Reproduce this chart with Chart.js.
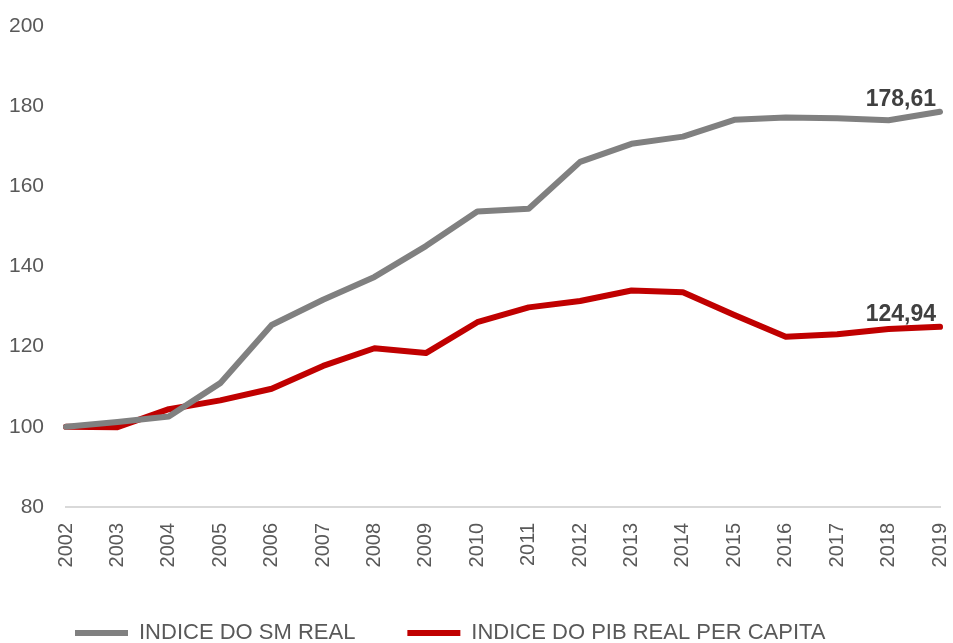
<!DOCTYPE html>
<html>
<head>
<meta charset="utf-8">
<script src="https://cdn.jsdelivr.net/npm/chart.js@4.4.1/dist/chart.umd.min.js"></script>
<style>
    html, body { margin: 0; padding: 0; background: #fff; overflow: hidden; }
    #wrap { width: 953px; height: 654px; position: relative; }
</style>
</head>
<body>
<div id="wrap"><canvas id="indexChart"></canvas></div>
<script>
// Datos
const years = ['2002', '2003', '2004', '2005', '2006', '2007', '2008', '2009', '2010',
    '2011', '2012', '2013', '2014', '2015', '2016', '2017', '2018', '2019'];
const smReal = [100, 101.2, 102.6, 110.9, 125.4, 131.7, 137.4, 145.1, 153.7,
    154.4, 166.1, 170.6, 172.4, 176.6, 177.2, 177.0, 176.5, 178.61];
const pibPerCapita = [100, 99.9, 104.4, 106.6, 109.5, 115.2, 119.6, 118.4, 126.1,
    129.8, 131.4, 134.0, 133.6, 127.9, 122.5, 123.1, 124.4, 124.94];
const yTicks = [80, 100, 120, 140, 160, 180, 200];

const FONT = "'Liberation Sans', Arial, sans-serif";

// Etiqueta del último valor de cada serie
const endLabels = {
    id: 'endLabels',
    afterDatasetsDraw(chart) {
        const ctx = chart.ctx;
        ctx.save();
        ctx.font = `bold 23px ${FONT}`;
        ctx.fillStyle = '#404040';
        ctx.textAlign = 'right';
        ctx.textBaseline = 'alphabetic';
        chart.data.datasets.forEach((ds, i) => {
            const meta = chart.getDatasetMeta(i);
            const pt = meta.data[meta.data.length - 1];
            const val = ds.data[ds.data.length - 1];
            ctx.fillText(val.toFixed(2).replace('.', ','), pt.x - 4, pt.y - 6);
        });
        ctx.restore();
    }
};

// Desplazar la leyenda un poco a la derecha
const legendShift = {
    id: 'legendShift',
    afterLayout(chart) {
        if (!chart.legend) return;
        chart.legend.left += 23;
        chart.legend.right += 23;
    }
};

const ctx = document.getElementById('indexChart').getContext('2d');
new Chart(ctx, {
    type: 'line',
    data: {
        labels: years,
        datasets: [
            {
                label: 'INDICE DO SM REAL',
                data: smReal,
                borderColor: '#808080',
                backgroundColor: '#808080',
                borderWidth: 6,
                borderCapStyle: 'round',
                borderJoinStyle: 'round',
                pointRadius: 0,
                tension: 0
            },
            {
                label: 'INDICE DO PIB REAL PER CAPITA',
                data: pibPerCapita,
                borderColor: '#c00000',
                backgroundColor: '#c00000',
                borderWidth: 6,
                borderCapStyle: 'round',
                borderJoinStyle: 'round',
                pointRadius: 0,
                tension: 0
            }
        ]
    },
    options: {
        responsive: true,
        maintainAspectRatio: false,
        animation: false,
        layout: { padding: { top: 26, right: 13, left: 0, bottom: 0 } },
        scales: {
            x: {
                offset: false,
                grid: { display: false, drawTicks: false },
                border: { display: true, color: '#d9d9d9', width: 2 },
                ticks: {
                    color: '#595959',
                    font: { family: FONT, size: 20 },
                    maxRotation: 90,
                    minRotation: 90,
                    padding: 16,
                    autoSkip: false
                },
                afterFit: axis => {
                    axis.height = 63;
                    axis.paddingLeft = 0;
                    axis.paddingRight = 0;
                }
            },
            y: {
                min: 80,
                max: 200,
                afterBuildTicks: axis => { axis.ticks = yTicks.map(v => ({ value: v })); },
                grid: { display: false, drawTicks: false },
                border: { display: false },
                ticks: {
                    color: '#595959',
                    font: { family: FONT, size: 21 },
                    padding: 22
                },
                afterFit: axis => {
                    axis.width = 66;
                    axis.paddingTop = 0;
                    axis.paddingBottom = 0;
                }
            }
        },
        plugins: {
            legend: {
                position: 'bottom',
                align: 'start',
                labels: {
                    color: '#595959',
                    font: { family: FONT, size: 22 },
                    usePointStyle: true,
                    pointStyle: 'line',
                    pointStyleWidth: 53,
                    boxHeight: 6,
                    padding: 52
                }
            },
            tooltip: { enabled: false }
        }
    },
    plugins: [endLabels, legendShift]
});
</script>
</body>
</html>
